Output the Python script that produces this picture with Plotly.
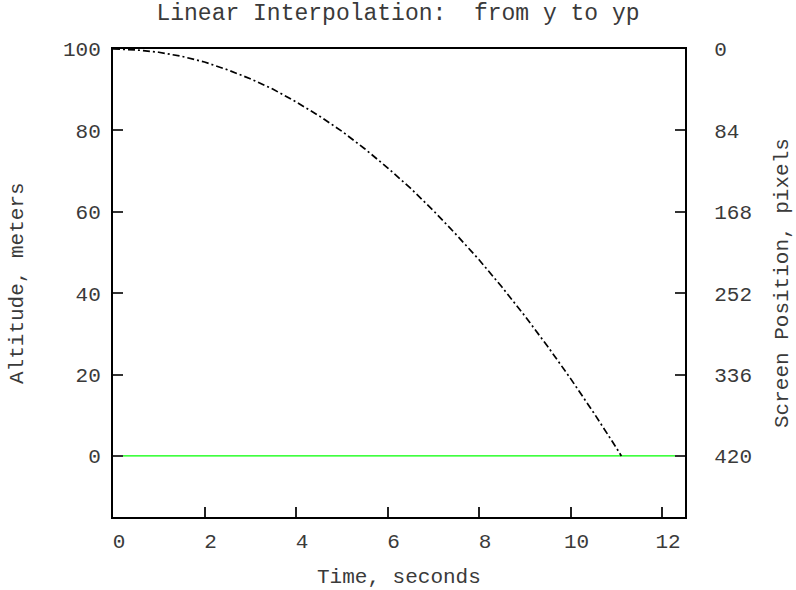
import plotly.graph_objects as go

# Data
time_s = [0, 0.5, 1, 1.5, 2, 2.5, 3, 3.5, 4, 4.5, 5, 5.5, 6, 6.5, 7, 7.5,
          8, 8.5, 9, 9.5, 10, 10.5, 11, 11.11]
altitude_m = [100, 99.8, 99.2, 98.2, 96.8, 94.9, 92.7, 90.1, 87.0, 83.6, 79.8,
              75.5, 70.8, 65.8, 60.3, 54.4, 48.2, 41.5, 34.4, 26.9, 19.0, 10.7,
              2.0, 0]
ground_t = [0, 12.5]
ground_alt = [0, 0]
left_ticks = [0, 20, 40, 60, 80, 100]
right_ticks = [0, 84, 168, 252, 336, 420]
x_ticks = [0, 2, 4, 6, 8, 10, 12]

FONT = "Courier New, Liberation Mono, monospace"
TXT = "#3a3a3a"

fig = go.Figure()
fig.add_trace(go.Scatter(x=ground_t, y=ground_alt, mode="lines",
                         line=dict(color="#00ff00", width=1.3), showlegend=False))
fig.add_trace(go.Scatter(x=time_s, y=altitude_m, mode="lines",
                         line=dict(color="black", width=1.7, dash="7px,3px,2px,3px"),
                         showlegend=False))
# invisible trace for right axis
fig.add_trace(go.Scatter(x=[0], y=[0], yaxis="y2", mode="markers",
                         marker=dict(opacity=0), showlegend=False, hoverinfo="skip"))

fig.update_layout(
    width=796, height=590,
    margin=dict(l=113, r=111, t=49, b=73),
    paper_bgcolor="white", plot_bgcolor="white",
    font=dict(family=FONT, size=21, color=TXT),
    title=dict(text="Linear Interpolation:  from y to yp", x=0.5, xanchor="center",
               y=1 - 12 / 590, yanchor="middle", font=dict(family=FONT, size=23, color=TXT)),
    xaxis=dict(range=[0, 12.5], tickvals=x_ticks, ticks="inside", ticklen=10,
               tickwidth=1.5, tickcolor="#222", showline=True, linewidth=2,
               linecolor="black", mirror=True, showgrid=False, zeroline=False,
               ticklabelshift=6, ticklabelstandoff=4, automargin=False),
    yaxis=dict(range=[-15, 100], tickvals=left_ticks, ticks="inside", ticklen=10,
               tickwidth=1.5, tickcolor="#333", showline=True, linewidth=2,
               linecolor="black", showgrid=False, zeroline=False,
               ticklabelstandoff=6, automargin=False),
    yaxis2=dict(range=[483, 0], tickvals=right_ticks, overlaying="y", side="right",
                ticks="inside", ticklen=10, tickwidth=1.5, tickcolor="#333",
                showline=True, linewidth=2, linecolor="black", showgrid=False,
                zeroline=False, ticklabelstandoff=23, automargin=False),
    annotations=[
        dict(text="Time, seconds", xref="paper", yref="paper", x=0.5, y=0,
             xanchor="center", yanchor="middle", yshift=-60, showarrow=False,
             font=dict(family=FONT, size=21, color=TXT)),
        dict(text="Altitude, meters", xref="paper", yref="paper", x=0, y=0.5,
             xanchor="center", yanchor="middle", xshift=-96, textangle=-90,
             showarrow=False, font=dict(family=FONT, size=21, color=TXT)),
        dict(text="Screen Position, pixels", xref="paper", yref="paper", x=1, y=0.5,
             xanchor="center", yanchor="middle", xshift=97, textangle=-90,
             showarrow=False, font=dict(family=FONT, size=21, color=TXT)),
    ],
)

fig.write_html("out.html")
